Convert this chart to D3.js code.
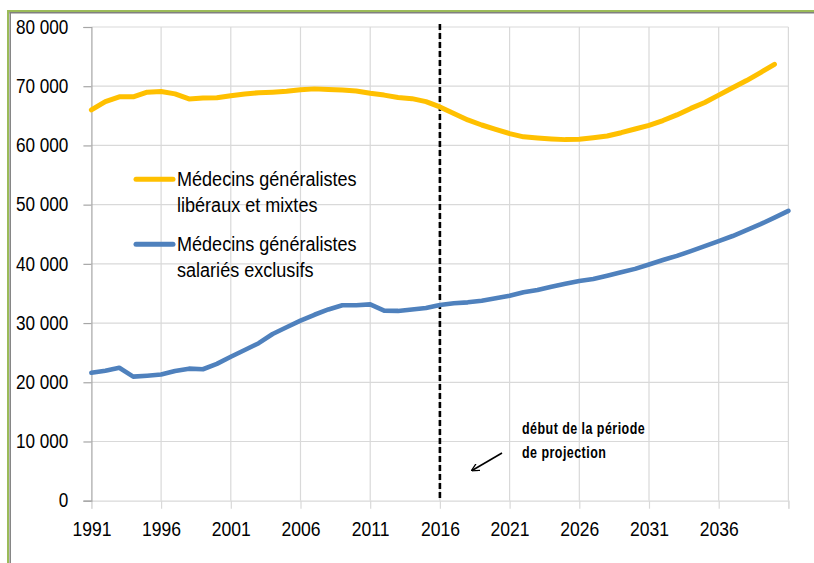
<!DOCTYPE html>
<html>
<head>
<meta charset="utf-8">
<script src="https://cdn.jsdelivr.net/npm/d3@7"></script>
<style>
  html, body { margin: 0; padding: 0; background: #fff; }
  svg { display: block; }
  text { font-family: "Liberation Sans", Arial, sans-serif; fill: #000; }
  .ylab { transform-box: fill-box; transform-origin: 100% 50%; transform: scaleX(0.88); }
  .xlab { transform-box: fill-box; transform-origin: 50% 50%; transform: scaleX(0.9); }
  .narrow { transform-box: fill-box; transform-origin: 0% 50%; }
</style>
</head>
<body>
<svg id="chart" width="814" height="563"></svg>
<script>
// ---- Data ----
const yearsLiberal = d3.range(1991, 2041); // 1991..2040
const liberal = [
  66000, 67400, 68200, 68200, 69000, 69100, 68700, 67850, 68000, 68050,
  68400, 68700, 68900, 69000, 69150, 69400, 69550, 69450, 69350, 69200,
  68800, 68500, 68100, 67900, 67400, 66500, 65400, 64300, 63450, 62700,
  62000, 61450, 61250, 61100, 60980, 61030, 61300, 61600, 62150, 62780,
  63400, 64200, 65150, 66250, 67250, 68500, 69750, 70950, 72300, 73700
];
const yearsSalaried = d3.range(1991, 2042); // 1991..2041
const salaried = [
  21600, 21950, 22450, 20950, 21100, 21300, 21900, 22300, 22200, 23100,
  24300, 25450, 26600, 28150, 29300, 30400, 31400, 32300, 33000, 33000,
  33150, 32100, 32050, 32300, 32550, 33050, 33350, 33500, 33780, 34180,
  34600, 35200, 35580, 36150, 36650, 37100, 37450, 38000, 38580, 39150,
  39900, 40650, 41350, 42150, 43000, 43850, 44700, 45700, 46700, 47800,
  48950
];
const yTickValues = [0, 10000, 20000, 30000, 40000, 50000, 60000, 70000, 80000];
const xTickValues = [1991, 1996, 2001, 2006, 2011, 2016, 2021, 2026, 2031, 2036, 2041];
const xTickLabels = ["1991", "1996", "2001", "2006", "2011", "2016", "2021", "2026", "2031", "2036", ""];
const seriesNames = [
  ["Médecins généralistes", "libéraux et mixtes"],
  ["Médecins généralistes", "salariés exclusifs"]
];
const projectionStart = 2016;
const annotationLines = ["début de la période", "de projection"];

// ---- Layout ----
const svg = d3.select("#chart");
const pLeft = 91.4, pRight = 788.4, pTop = 27, pBottom = 500.7;
const x = d3.scaleLinear().domain([1991, 2041]).range([pLeft, pRight]);
const y = d3.scaleLinear().domain([0, 80000]).range([pBottom, pTop]);
const fr = d3.formatLocale({ decimal: ",", thousands: " ", grouping: [3], currency: ["", "€"] });
const fmt = fr.format(",");

// frame (green + gray double border, top and left)
svg.append("line").attr("x1", 7).attr("x2", 814).attr("y1", 11).attr("y2", 11)
  .attr("stroke", "#9bbb59").attr("stroke-width", 2);
svg.append("line").attr("x1", 8).attr("x2", 8).attr("y1", 10).attr("y2", 563)
  .attr("stroke", "#9bbb59").attr("stroke-width", 2);
svg.append("line").attr("x1", 9.5).attr("x2", 814).attr("y1", 12.8).attr("y2", 12.8)
  .attr("stroke", "#808080").attr("stroke-width", 1.5);
svg.append("line").attr("x1", 10.2).attr("x2", 10.2).attr("y1", 12).attr("y2", 563)
  .attr("stroke", "#808080").attr("stroke-width", 1.5);

// gridlines
const grid = svg.append("g").attr("class", "grid");
grid.selectAll("line.h").data(yTickValues.slice(1)).join("line")
  .attr("x1", pLeft).attr("x2", pRight)
  .attr("y1", d => y(d)).attr("y2", d => y(d))
  .attr("stroke", "#d9d9d9").attr("stroke-width", 1.2);
grid.selectAll("line.v").data(xTickValues.slice(1)).join("line")
  .attr("x1", d => x(d)).attr("x2", d => x(d))
  .attr("y1", pTop).attr("y2", pBottom)
  .attr("stroke", "#d9d9d9").attr("stroke-width", 1.2);

// x axis
const xAxis = svg.append("g").attr("transform", `translate(0,${pBottom})`)
  .call(d3.axisBottom(x).tickValues(xTickValues)
    .tickFormat((d, i) => xTickLabels[i]).tickSize(8).tickPadding(13.3));
xAxis.select(".domain").attr("stroke", "#d9d9d9").attr("stroke-width", 1.2);
xAxis.selectAll(".tick line").attr("stroke", "#d9d9d9").attr("stroke-width", 1.2);
xAxis.selectAll("text").attr("class", "xlab").style("font-size", "19.5px").attr("fill", "#000");

// y axis
const yAxis = svg.append("g").attr("transform", `translate(${pLeft},0)`)
  .call(d3.axisLeft(y).tickValues(yTickValues).tickFormat(fmt).tickSize(8).tickPadding(15));
yAxis.select(".domain").attr("stroke", "#a6a6a6").attr("stroke-width", 1.2);
yAxis.selectAll(".tick line").attr("stroke", "#a6a6a6").attr("stroke-width", 1.2);
yAxis.selectAll("text").attr("class", "ylab").style("font-size", "19.5px").attr("fill", "#000");

// projection line
svg.append("line")
  .attr("x1", x(projectionStart)).attr("x2", x(projectionStart))
  .attr("y1", 24).attr("y2", pBottom)
  .attr("stroke", "#000").attr("stroke-width", 2.6).attr("stroke-dasharray", "6,3");

// series lines
const line = d3.line().x(d => x(d[0])).y(d => y(d[1]));
svg.append("path")
  .datum(yearsLiberal.map((yr, i) => [yr, liberal[i]]))
  .attr("d", line).attr("fill", "none")
  .attr("stroke", "#ffc000").attr("stroke-width", 5)
  .attr("stroke-linejoin", "round").attr("stroke-linecap", "round");
svg.append("path")
  .datum(yearsSalaried.map((yr, i) => [yr, salaried[i]]))
  .attr("d", line).attr("fill", "none")
  .attr("stroke", "#4f81bd").attr("stroke-width", 4.6)
  .attr("stroke-linejoin", "round").attr("stroke-linecap", "round");

// legend
const legendColors = ["#ffc000", "#4f81bd"];
const legendY = [179.3, 244.3];
seriesNames.forEach((lines, i) => {
  svg.append("line").attr("x1", 136).attr("x2", 173)
    .attr("y1", legendY[i]).attr("y2", legendY[i])
    .attr("stroke", legendColors[i]).attr("stroke-width", 5).attr("stroke-linecap", "round");
  const t = svg.append("text").attr("class", "narrow").attr("x", 177).attr("y", legendY[i] + 7)
    .style("font-size", "21px").style("transform", "scaleX(0.86)");
  lines.forEach((l, j) => {
    t.append("tspan").attr("x", 177).attr("dy", j === 0 ? 0 : 25.8).text(l);
  });
});

// annotation
const ann = svg.append("text").attr("class", "narrow").attr("x", 522).attr("y", 434)
  .style("font-size", "16px").style("font-weight", "bold").style("letter-spacing", "0.6px")
  .style("transform", "scaleX(0.78)");
annotationLines.forEach((l, j) => {
  ann.append("tspan").attr("x", 522).attr("dy", j === 0 ? 0 : 24.5).text(l);
});
svg.append("defs").append("marker")
  .attr("id", "arrow").attr("viewBox", "0 0 10 10").attr("refX", 9).attr("refY", 5)
  .attr("markerWidth", 8).attr("markerHeight", 8).attr("orient", "auto")
  .attr("markerUnits", "userSpaceOnUse")
  .append("path").attr("d", "M0,0 L10,5 L0,10").attr("fill", "none")
  .attr("stroke", "#000").attr("stroke-width", 1.6);
svg.append("line").attr("x1", 502).attr("y1", 453).attr("x2", 472).attr("y2", 470.5)
  .attr("stroke", "#000").attr("stroke-width", 1.6).attr("marker-end", "url(#arrow)");
</script>
</body>
</html>
